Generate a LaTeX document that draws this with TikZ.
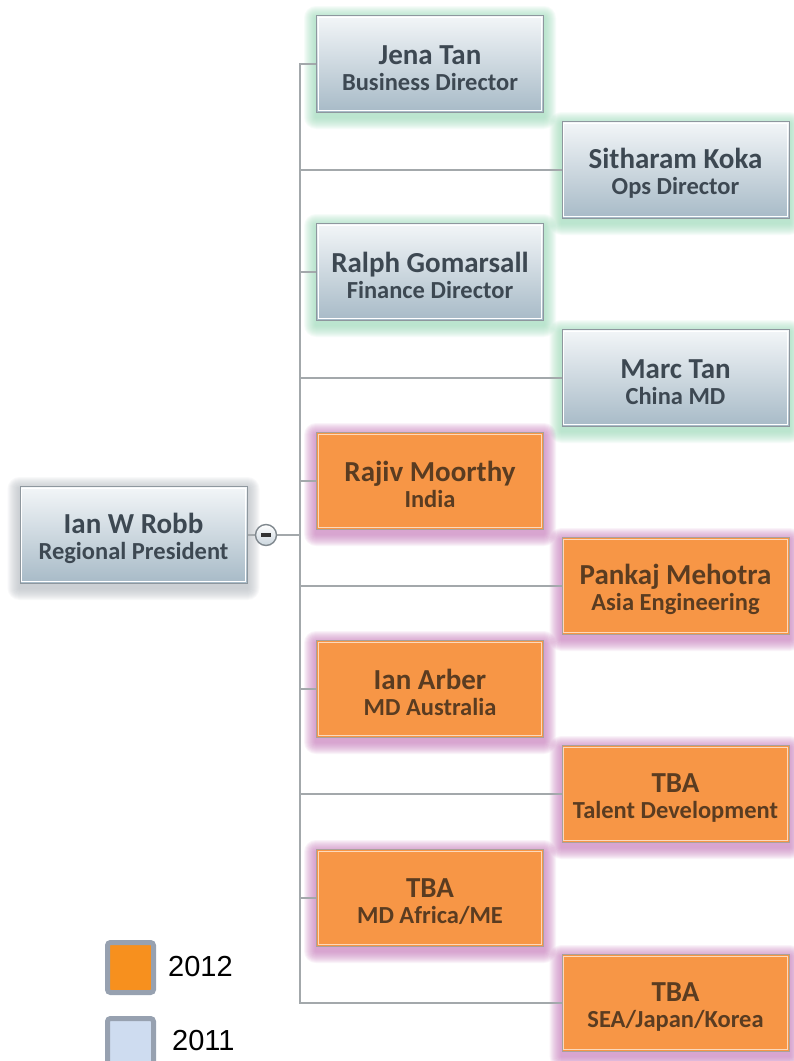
\documentclass[tikz,border=0pt]{standalone}
\usepackage{fontspec}
\setmainfont{Carlito}
\newfontfamily\legendfont{Liberation Sans}
\usetikzlibrary{backgrounds}

\definecolor{bluetop}{HTML}{F3F6F8}
\definecolor{bluebot}{HTML}{A7BAC7}
\definecolor{boxedge}{HTML}{8E979E}
\definecolor{bluetext}{HTML}{3D4852}
\definecolor{orangefill}{HTML}{F79646}
\definecolor{orangeedge}{HTML}{A9A19B}
\definecolor{orangeinner}{HTML}{FCD9BC}
\definecolor{orangetext}{HTML}{5A3C21}
\definecolor{greenglow}{HTML}{9FDDBB}
\definecolor{pinkglow}{HTML}{C97EBE}
\definecolor{grayglow}{HTML}{B8BEC4}
\definecolor{linkgray}{HTML}{A3A8AB}
\definecolor{legorange}{HTML}{F7901E}
\definecolor{legblue}{HTML}{CEDCF0}
\definecolor{legedge}{HTML}{97A1B0}

% soft halo drawn behind a box
\newcommand\halo[2]{%
  \foreach \i in {1,...,12}{%
    \fill[#2, opacity=0.085, rounded corners=\i pt]
      ([shift={(-\i,3-\i)}]#1.north west) rectangle ([shift={(\i,4+\i)}]#1.south east);
  }%
}
% thin light line just inside a box border
\newcommand\innerline[2]{%
  \draw[#2, line width=1.2pt]
    ([shift={(2.2,2.2)}]#1.north west) rectangle ([shift={(-2.2,-2.2)}]#1.south east);
}
\newcommand\subline[1]{{\fontsize{24.5}{26}\selectfont #1}}

\begin{document}
\begin{tikzpicture}[x=1pt,y=-1pt,
  box/.style={rectangle, minimum width=227pt, minimum height=97pt, inner sep=0pt,
    align=center, font=\bfseries\fontsize{29}{26}\selectfont},
  oldbox/.style={box, draw=boxedge, line width=1pt, top color=bluetop,
    bottom color=bluebot, text=bluetext},
  newbox/.style={box, draw=orangeedge, line width=1pt, fill=orangefill,
    text=orangetext},
  conn/.style={draw=linkgray, line width=1.2pt},
  legsq/.style={rectangle, draw=legedge, line width=5pt, rounded corners=3pt,
    minimum width=46pt, minimum height=50pt, inner sep=0pt},
  legtext/.style={anchor=base west, inner sep=0pt, font=\legendfont\fontsize{29}{29}\selectfont}
]
\useasboundingbox (0,0) rectangle (794,1061);

% root
\node[oldbox] (root) at (133.5,535) {\rule{0pt}{27pt}Ian W Robb\\ \subline{Regional President}};
\node[circle, draw=boxedge!90!black, line width=1.4pt, top color=white, bottom color=bluebot!60,
  minimum size=21pt, inner sep=0pt] (toggle) at (266,535)
  {\textcolor{black!80}{\rule{10pt}{3.5pt}}};

% left column
\node[oldbox] (jena)   at (430,64)  {\rule{0pt}{27pt}Jena Tan\\ \subline{Business Director}};
\node[oldbox] (ralph)  at (430,272) {\rule{0pt}{27pt}Ralph Gomarsall\\ \subline{Finance Director}};
\node[newbox] (rajiv)  at (430,481) {\rule{0pt}{27pt}Rajiv Moorthy\\ \subline{India}};
\node[newbox] (arber)  at (430,689) {\rule{0pt}{27pt}Ian Arber\\ \subline{MD Australia}};
\node[newbox] (africa) at (430,898) {\rule{0pt}{27pt}TBA\\ \subline{MD Africa/ME}};

% right column
\node[oldbox] (koka)    at (675.5,170)  {\rule{0pt}{27pt}Sitharam Koka\\ \subline{Ops Director}};
\node[oldbox] (marc)    at (675.5,378)  {\rule{0pt}{27pt}Marc Tan\\ \subline{China MD}};
\node[newbox] (pankaj)  at (675.5,586)  {\rule{0pt}{27pt}Pankaj Mehotra\\ \subline{Asia Engineering}};
\node[newbox] (talent)  at (675.5,794)  {\rule{0pt}{27pt}TBA\\ \subline{Talent Development}};
\node[newbox] (sea)     at (675.5,1003) {\rule{0pt}{27pt}TBA\\ \subline{SEA/Japan/Korea}};

\foreach \n in {rajiv,arber,africa,pankaj,talent,sea}{\innerline{\n}{orangeinner}}
\foreach \n in {root,jena,ralph,koka,marc}{\innerline{\n}{white}}

\begin{scope}[on background layer]
  \fill[white] (0,0) rectangle (794,1061);
  \halo{root}{grayglow}
  \foreach \n in {jena,ralph,koka,marc}{\halo{\n}{greenglow}}
  \foreach \n in {rajiv,arber,africa,pankaj,talent,sea}{\halo{\n}{pinkglow}}

  % connectors
  \coordinate (spine) at (300,0);
  \draw[conn] (root.east) -- (toggle.west);
  \draw[conn] (toggle.east) -- (toggle.east -| spine);
  \draw[conn] (jena.west) -| (spine |- sea.west) -- (sea.west);
  \foreach \n in {ralph,rajiv,arber,africa,koka,marc,pankaj,talent}{
    \draw[conn] (spine |- \n.west) -- (\n.west);
  }
\end{scope}

% legend
\node[legsq, fill=legorange] (key12) at (130.5,967.5) {};
\node[legsq, fill=legblue]   (key11) at (130.5,1043.5) {};
\node[legtext] (lab12) at (168,976) {2012};
\node[legtext] (lab11) at (172,1050) {2011};
\end{tikzpicture}
\end{document}
